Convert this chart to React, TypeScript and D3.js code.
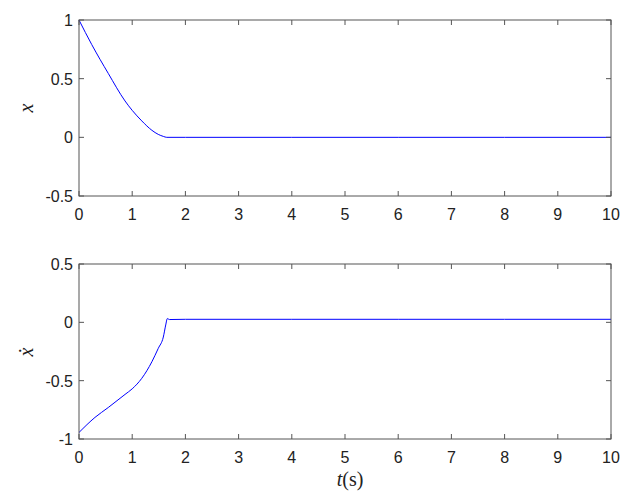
import React from "react";
import * as d3 from "d3";

const tPos = [0, 0.24, 0.55, 0.865, 1.0, 1.18, 1.37, 1.49, 1.585, 1.65, 2, 4, 6, 8, 10];
const xPos = [1, 0.79, 0.545, 0.31, 0.23, 0.14, 0.06, 0.025, 0.008, 0, 0, 0, 0, 0, 0];

const tVel = [0, 0.3, 0.55, 0.865, 1.0, 1.18, 1.37, 1.49, 1.585, 1.63, 1.66, 1.7, 2, 4, 6, 8, 10];
const xVel = [-0.944, -0.815, -0.73, -0.618, -0.57, -0.48, -0.338, -0.223, -0.126, -0.023, 0.032, 0.024, 0.026, 0.026, 0.026, 0.026, 0.026];

const xTicks = [0, 1, 2, 3, 4, 5, 6, 7, 8, 9, 10];
const yTicksTop = [-0.5, 0, 0.5, 1];
const yTicksBottom = [-1, -0.5, 0, 0.5];

const W = 626, H = 499;
const left = 79, right = 611;
const axisColor = "#555";
const fontTick = "'Liberation Sans', Arial, sans-serif";
const fontMath = "'Liberation Serif', 'DejaVu Serif', serif";

function Panel({ top, bottom, domain, yTicks, tData, yData, label }: any) {
  const x = d3.scaleLinear().domain([0, 10]).range([left, right]);
  const y = d3.scaleLinear().domain(domain).range([bottom, top]);
  const line = d3.line<number>().x((_, i) => x(tData[i])).y((d) => y(d)).curve(d3.curveMonotoneX);
  const tl = 5;
  return (
    <g>
      <path d={line(yData) || ""} fill="none" stroke="#0000ff" strokeWidth={1} />
      <rect x={left} y={top} width={right - left} height={bottom - top} fill="none" stroke={axisColor} strokeWidth={1} />
      {xTicks.map((t) => (
        <g key={"x" + t}>
          <line x1={x(t)} x2={x(t)} y1={bottom} y2={bottom - tl} stroke={axisColor} />
          <line x1={x(t)} x2={x(t)} y1={top} y2={top + tl} stroke={axisColor} />
          <text x={x(t)} y={bottom + 24} textAnchor="middle" fontFamily={fontTick} fontSize={16} fill="#222">{t}</text>
        </g>
      ))}
      {yTicks.map((v: number) => (
        <g key={"y" + v}>
          <line x1={left} x2={left + tl} y1={y(v)} y2={y(v)} stroke={axisColor} />
          <line x1={right} x2={right - tl} y1={y(v)} y2={y(v)} stroke={axisColor} />
          <text x={left - 6} y={y(v) + 6} textAnchor="end" fontFamily={fontTick} fontSize={16} fill="#222">{v}</text>
        </g>
      ))}
      {label}
    </g>
  );
}

export default function App() {
  return (
    <svg width={W} height={H} style={{ position: "absolute", left: 0, top: 0, background: "#fff" }}>
      <Panel top={20} bottom={196} domain={[-0.5, 1]} yTicks={yTicksTop} tData={tPos} yData={xPos}
        label={<text transform="translate(33,108) rotate(-90)" textAnchor="middle" fontFamily={fontMath} fontStyle="italic" fontSize={20} fill="#222">x</text>} />
      <Panel top={264} bottom={439} domain={[-1, 0.5]} yTicks={yTicksBottom} tData={tVel} yData={xVel}
        label={<text transform="translate(33,352) rotate(-90)" textAnchor="middle" fontFamily={fontMath} fontStyle="italic" fontSize={20} fill="#222">ẋ</text>} />
      <text x={350} y={486} textAnchor="middle" fontFamily={fontMath} fontSize={20} fill="#222">
        <tspan fontStyle="italic">t</tspan>(s)
      </text>
    </svg>
  );
}
